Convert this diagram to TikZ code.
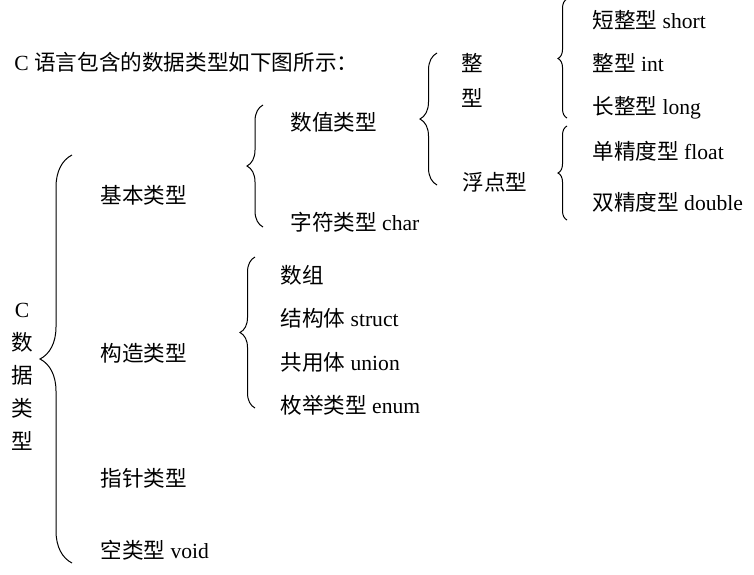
\documentclass[tikz,border=0pt]{standalone}
\usepackage{fontspec}
\setmainfont{Liberation Serif}
\newfontfamily\cjk{Noto Sans CJK SC}
\usetikzlibrary{decorations.pathreplacing}
\newcommand{\zh}[1]{{\cjk #1}}

\begin{document}
\begin{tikzpicture}[x=0.5pt, y=-0.5pt,
    lbl/.style={anchor=west, inner sep=0pt, font=\fontsize{10.8}{12}\selectfont},
    stack/.style={align=center, inner sep=0pt, font=\fontsize{10.8}{#1}\selectfont},
    brc/.style={decorate, decoration={brace, amplitude=#1}, line width=0.5pt}]
  \useasboundingbox (0,0) rectangle (754,574);

  % heading
  \node[lbl] (title) at (14,62) {C \zh{语言包含的数据类型如下图所示：}};

  % root
  \node[stack=16.5pt] (root) at (22,377) {C\\\zh{数}\\\zh{据}\\\zh{类}\\\zh{型}};

  % first level
  \node[lbl] (basic)  at (100,195) {\zh{基本类型}};
  \node[lbl] (constr) at (100,353) {\zh{构造类型}};
  \node[lbl] (ptr)    at (100,478) {\zh{指针类型}};
  \node[lbl] (void)   at (100,550) {\zh{空类型} void};

  % basic types
  \node[lbl] (num)  at (290,122) {\zh{数值类型}};
  \node[lbl] (char) at (290,222) {\zh{字符类型} char};
  \node[stack=17.5pt] (int) at (472,80) {\zh{整}\\\zh{型}};
  \node[lbl] (flt)  at (462,182) {\zh{浮点型}};
  \node[lbl] (short)  at (592,20)  {\zh{短整型} short};
  \node[lbl] (intt)   at (592,63)  {\zh{整型} int};
  \node[lbl] (long)   at (592,108) {\zh{长整型} long};
  \node[lbl] (float)  at (592,151) {\zh{单精度型} float};
  \node[lbl] (double) at (592,202) {\zh{双精度型} double};

  % constructed types
  \node[lbl] (arr)    at (280,275) {\zh{数组}};
  \node[lbl] (struct) at (280,318) {\zh{结构体} struct};
  \node[lbl] (union)  at (280,362) {\zh{共用体} union};
  \node[lbl] (enum)   at (280,405) {\zh{枚举类型} enum};

  % braces
  \coordinate (b0a) at (72,563);  \coordinate (b0b) at (72,155);
  \coordinate (b1a) at (263,227); \coordinate (b1b) at (263,105);
  \coordinate (b2a) at (437,185); \coordinate (b2b) at (437,53);
  \coordinate (b3a) at (567,118); \coordinate (b3b) at (567,-1);
  \coordinate (b4a) at (567,220); \coordinate (b4b) at (567,126);
  \coordinate (b5a) at (255,408); \coordinate (b5b) at (255,257);
  \draw[brc=16pt] (b0a) -- (b0b);
  \draw[brc=8pt] (b1a) -- (b1b);
  \draw[brc=8.5pt] (b2a) -- (b2b);
  \draw[brc=4.5pt] (b3a) -- (b3b);
  \draw[brc=4.5pt] (b4a) -- (b4b);
  \draw[brc=7.5pt] (b5a) -- (b5b);
\end{tikzpicture}
\end{document}
